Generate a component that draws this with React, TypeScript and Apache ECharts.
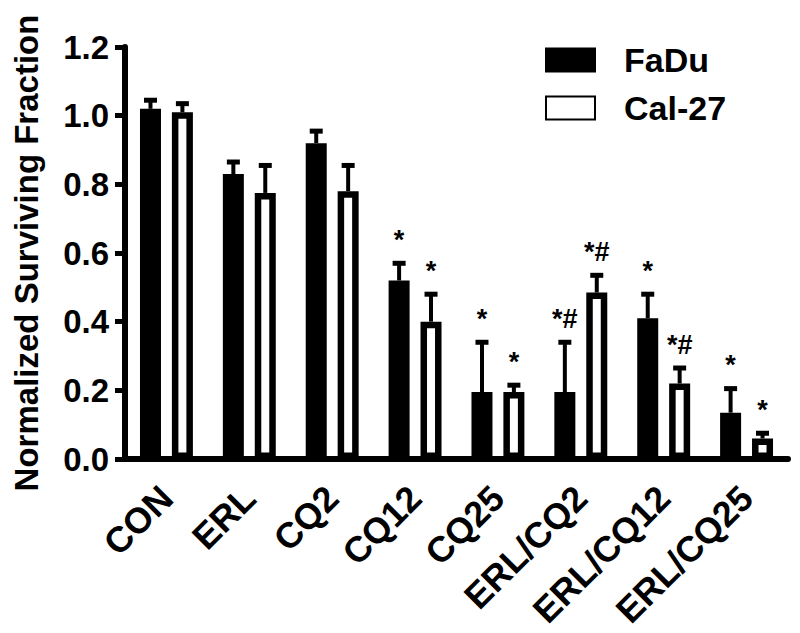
import React, { useEffect, useRef } from "react";
import * as echarts from "echarts";

const categories = ["CON", "ERL", "CQ2", "CQ12", "CQ25", "ERL/CQ2", "ERL/CQ12", "ERL/CQ25"];
const faduValues = [1.02, 0.83, 0.92, 0.52, 0.195, 0.195, 0.41, 0.135];
const faduErrors = [0.025, 0.035, 0.035, 0.05, 0.145, 0.145, 0.07, 0.07];
const calValues = [1.01, 0.775, 0.78, 0.4, 0.195, 0.485, 0.22, 0.06];
const calErrors = [0.025, 0.08, 0.075, 0.08, 0.02, 0.05, 0.045, 0.015];
const faduMarks = ["", "", "", "*", "*", "*#", "*", "*"];
const calMarks = ["", "", "", "*", "*", "*#", "*#", "*"];
const yTicks = [0, 0.2, 0.4, 0.6, 0.8, 1.0, 1.2];

const FONT = 'Arial, "Liberation Sans", Helvetica, sans-serif';
const BAR_W = 21;
const BAR_GAP = 0.52;
const HALF = (BAR_W * 2 + BAR_W * BAR_GAP) / 2 - BAR_W / 2;

function errorSeries(name: string, values: number[], errors: number[], marks: string[], offset: number) {
  return {
    type: "custom",
    name: name + " err",
    z: 5,
    silent: true,
    data: values.map((v, i) => [i, v, errors[i]]),
    renderItem: (params: any, api: any) => {
      const idx = api.value(0);
      const v = api.value(1);
      const e = api.value(2);
      const base = api.coord([idx, v]);
      const top = api.coord([idx, v + e]);
      const x = base[0] + offset;
      const children: any[] = [
        {
          type: "line",
          shape: { x1: x, y1: base[1], x2: x, y2: top[1] },
          style: { stroke: "#000", lineWidth: 4 },
        },
        {
          type: "line",
          shape: { x1: x - 6.5, y1: top[1], x2: x + 6.5, y2: top[1] },
          style: { stroke: "#000", lineWidth: 5 },
        },
      ];
      const m = marks[params.dataIndex];
      if (m) {
        children.push({
          type: "text",
          x: x,
          y: top[1] - 10,
          style: {
            text: m,
            fontSize: 27,
            fontWeight: "bold",
            fontFamily: FONT,
            fill: "#000",
            align: "center",
            verticalAlign: "bottom",
          },
        });
      }
      return { type: "group", children };
    },
  };
}

export default function App() {
  const ref = useRef<HTMLDivElement>(null);
  useEffect(() => {
    if (!ref.current) return;
    const chart = echarts.init(ref.current, null, { renderer: "svg" });
    chart.setOption({
      animation: false,
      backgroundColor: "#fff",
      textStyle: { fontFamily: FONT },
      grid: {
        left: 125,
        right: 12,
        top: 47,
        bottom: 174,
        containLabel: false,
        outerBoundsMode: "none",
      },
      legend: {
        data: ["FaDu", "Cal-27"],
        orient: "vertical",
        left: 545,
        top: 43,
        padding: 0,
        itemWidth: 49,
        itemHeight: 23,
        itemGap: 14,
        icon: "rect",
        selectedMode: false,
        textStyle: {
          fontSize: 34,
          fontWeight: "bold",
          fontFamily: FONT,
          color: "#000",
          padding: [0, 0, 0, 24],
        },
      },
      xAxis: {
        type: "category",
        data: categories,
        axisLine: { lineStyle: { color: "#000", width: 6 } },
        axisTick: { alignWithLabel: true, length: 10, lineStyle: { color: "#000", width: 5 } },
        axisLabel: {
          rotate: 45,
          margin: 33,
          fontSize: 36,
          fontWeight: "bold",
          fontFamily: FONT,
          color: "#000",
          interval: 0,
        },
      },
      yAxis: {
        type: "value",
        min: 0,
        max: 1.2,
        interval: 0.2,
        name: "Normalized Surviving Fraction",
        nameLocation: "middle",
        nameGap: 82,
        nameTextStyle: { fontSize: 33, fontWeight: "bold", fontFamily: FONT, color: "#000" },
        axisLine: { show: true, lineStyle: { color: "#000", width: 6 } },
        axisTick: { show: true, length: 10, lineStyle: { color: "#000", width: 5 } },
        splitLine: { show: false },
        axisLabel: {
          margin: 16,
          fontSize: 33,
          fontWeight: "bold",
          fontFamily: FONT,
          color: "#000",
          formatter: (v: number) => (yTicks.some((t) => Math.abs(t - v) < 1e-9) ? v.toFixed(1) : ""),
        },
      },
      series: [
        {
          name: "FaDu",
          type: "bar",
          data: faduValues,
          barWidth: BAR_W,
          barGap: BAR_GAP * 100 + "%",
          itemStyle: { color: "#000", borderColor: "#000", borderWidth: 6.5 },
        },
        {
          name: "Cal-27",
          type: "bar",
          data: calValues,
          barWidth: BAR_W,
          barGap: BAR_GAP * 100 + "%",
          itemStyle: { color: "#fff", borderColor: "#000", borderWidth: 6.5 },
        },
        errorSeries("FaDu", faduValues, faduErrors, faduMarks, -HALF),
        errorSeries("Cal-27", calValues, calErrors, calMarks, HALF),
      ],
    });
    return () => chart.dispose();
  }, []);
  return <div ref={ref} style={{ width: 800, height: 633, position: "absolute", left: 0, top: 0 }} />;
}
